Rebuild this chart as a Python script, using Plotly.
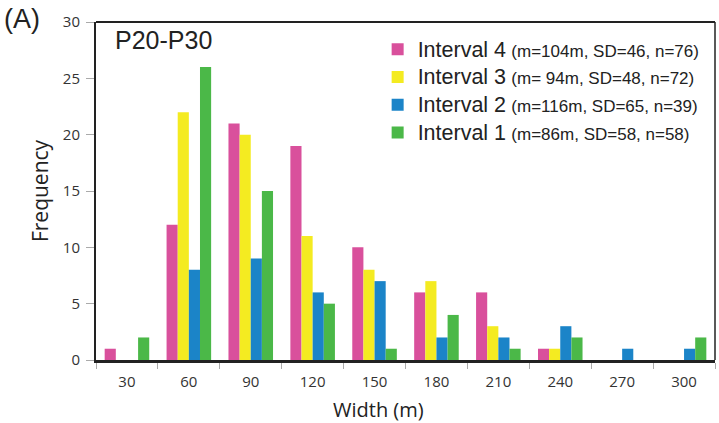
import plotly.graph_objects as go

widths = ["30", "60", "90", "120", "150", "180", "210", "240", "270", "300"]
interval4 = [1, 12, 21, 19, 10, 6, 6, 1, 0, 0]
interval3 = [0, 22, 20, 11, 8, 7, 3, 1, 0, 0]
interval2 = [0, 8, 9, 6, 7, 2, 2, 3, 1, 1]
interval1 = [2, 26, 15, 5, 1, 4, 1, 2, 0, 2]

names = ["Interval 4", "Interval 3", "Interval 2", "Interval 1"]
stats = ["(m=104m, SD=46, n=76)", "(m= 94m, SD=48, n=72)",
         "(m=116m, SD=65, n=39)", "(m=86m, SD=58, n=58)"]
colors = ["#D9509C", "#F4EB21", "#1B84C8", "#4BB848"]
series = [interval4, interval3, interval2, interval1]

fig = go.Figure()
for n, s, c, v in zip(names, stats, colors, series):
    fig.add_trace(go.Bar(
        x=widths, y=v, marker=dict(color=c, line=dict(width=0)),
        name=(f"<span style='font-size:21.5px'>{n}</span> "
              f"<span style='font-size:17px'>{s}</span>"),
    ))

fig.update_layout(
    width=719, height=423,
    margin=dict(l=96, r=4, t=22, b=63),
    plot_bgcolor="white", paper_bgcolor="white",
    barmode="group", bargap=0.28, bargroupgap=0,
    font=dict(family="Liberation Sans, Arial, sans-serif", color="#222"),
    legend=dict(x=0.455, y=0.975, xanchor="left", yanchor="top",
                font=dict(size=19, color="#222"), traceorder="normal",
                bgcolor="rgba(0,0,0,0)", itemwidth=30),
    showlegend=True,
)
fig.update_xaxes(
    type="category", showline=True, linecolor="#222", linewidth=3, mirror=False,
    ticks="outside", tickson="boundaries", ticklen=6, tickcolor="#aaa",
    ticklabelstandoff=6,
    tickfont=dict(family="Open Sans, sans-serif", size=15, color="#333"),
    showgrid=False,
)
fig.update_yaxes(
    range=[0, 30], dtick=5, showline=True, linecolor="#222", linewidth=2,
    ticks="outside", ticklen=8, tickcolor="#aaa", ticklabelstandoff=3,
    tickfont=dict(family="Open Sans, sans-serif", size=15, color="#333"),
    title=dict(text="Frequency", font=dict(family="Open Sans, sans-serif", size=21, color="#222"), standoff=8),
    showgrid=False, zeroline=False,
)
fig.add_shape(type="line", xref="paper", yref="paper", x0=0, x1=1, y0=1, y1=1,
              line=dict(color="#222", width=2))
fig.add_shape(type="line", xref="paper", yref="paper", x0=1, x1=1, y0=0, y1=1,
              line=dict(color="#222", width=1.5))
fig.add_annotation(text="Width (m)", xref="paper", yref="paper", x=0.456, y=-0.145,
                   xanchor="center", yanchor="middle", showarrow=False,
                   font=dict(family="Open Sans, sans-serif", size=20, color="#222"))
fig.add_annotation(text="P20-P30", xref="paper", yref="paper", x=0.028, y=0.995,
                   xanchor="left", yanchor="top", showarrow=False,
                   font=dict(size=25, color="#222"))
fig.add_annotation(text="(A)", xref="paper", yref="paper", x=-0.152, y=1.06,
                   xanchor="left", yanchor="top", showarrow=False,
                   font=dict(size=27, color="#222"))

fig.write_html("out.html")
